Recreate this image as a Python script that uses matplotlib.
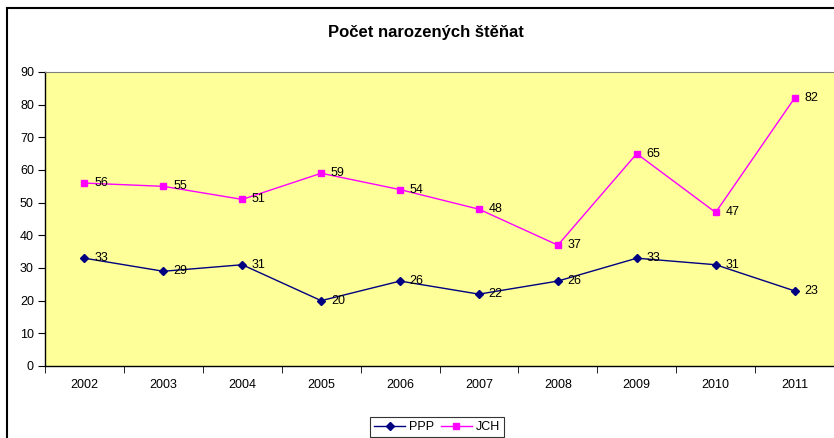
import matplotlib.pyplot as plt
import numpy as np
from matplotlib.patches import Rectangle

years = ['2002', '2003', '2004', '2005', '2006', '2007', '2008', '2009', '2010', '2011']
ppp = [33, 29, 31, 20, 26, 22, 26, 33, 31, 23]
jch = [56, 55, 51, 59, 54, 48, 37, 65, 47, 82]

plt.rcParams['font.family'] = ['Liberation Sans', 'DejaVu Sans']

fig = plt.figure(figsize=(8.34, 4.38), dpi=100)
W, H = 834, 438
ax = fig.add_axes([45 / W, (H - 366) / H, 1 - 45 / W, (366 - 72) / H])
ax.set_facecolor('#FFFF99')

x = np.arange(len(years))
ax.plot(x, ppp, color='#000080', marker='D', markersize=4, lw=1, label='PPP')
ax.plot(x, jch, color='#FF00FF', marker='s', markersize=5, lw=1, label='JCH')

for xi, v in zip(x, ppp):
    ax.annotate(str(v), (xi, v), xytext=(7, 0), textcoords='offset points',
                va='center', ha='left', fontsize=9)
for xi, v in zip(x, jch):
    ax.annotate(str(v), (xi, v), xytext=(7, 0), textcoords='offset points',
                va='center', ha='left', fontsize=9)

ax.set_xlim(-0.5, len(years) - 0.5)
ax.set_ylim(0, 90)
ax.set_yticks(range(0, 91, 10))
ax.set_xticks(x)
ax.set_xticklabels(years)
ax.set_xticks(np.arange(-0.5, len(years), 1), minor=True)
ax.tick_params(axis='x', which='major', length=0, pad=9, labelsize=9)
ax.tick_params(axis='x', which='minor', length=5, direction='out')
ax.tick_params(axis='y', length=5, direction='out', labelsize=9, pad=3)

for s in ['left', 'bottom']:
    ax.spines[s].set_color('black')
    ax.spines[s].set_linewidth(1)
ax.spines['top'].set_color('#808080')
ax.spines['right'].set_visible(False)

fig.text(426 / W, 1 - 33 / H, 'Počet narozených štěňat', ha='center', va='center',
         fontsize=12, fontweight='bold')

leg = fig.legend(loc='center', bbox_to_anchor=(437 / W, 1 - 427 / H), ncol=2,
                 fontsize=9, frameon=True, fancybox=False, edgecolor='black',
                 handlelength=2.5, columnspacing=0.5, handletextpad=0.3,
                 borderpad=0.3, borderaxespad=0)
leg.get_frame().set_linewidth(0.8)

fig.patches.append(Rectangle((7 / W, -0.05), 1.1, 1 - 8 / H + 0.05,
                             transform=fig.transFigure, fill=False,
                             edgecolor='black', lw=1.5))

fig.savefig('out.png', dpi=100)
